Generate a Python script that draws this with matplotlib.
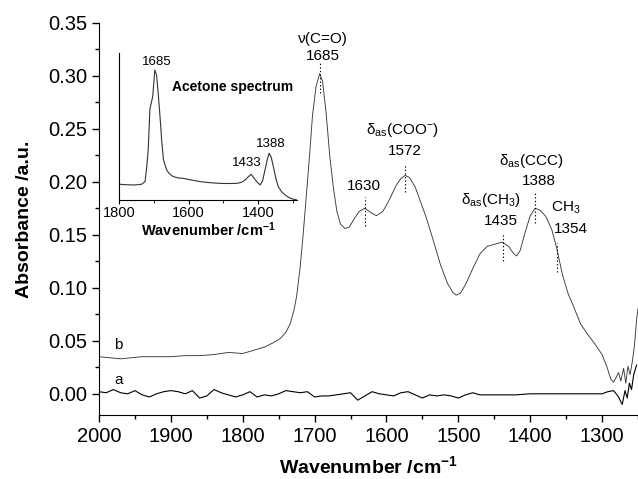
import matplotlib
matplotlib.use('Agg')
import matplotlib.pyplot as plt
from matplotlib.ticker import MultipleLocator, NullLocator

# 1. 数据
wn_a = [2000, 1990, 1980, 1970, 1960, 1950, 1940, 1930, 1920, 1910, 1900, 1890, 1880, 1870,
        1860, 1850, 1840, 1830, 1820, 1810, 1800, 1790, 1780, 1770, 1760, 1750, 1740, 1730,
        1720, 1710, 1700, 1690, 1680, 1670, 1660, 1650, 1640, 1630, 1620, 1610, 1600, 1590,
        1580, 1570, 1560, 1550, 1540, 1530, 1520, 1510, 1500, 1490, 1480, 1470, 1460, 1450,
        1440, 1420, 1400, 1380, 1360, 1340, 1320, 1300, 1292, 1284, 1278, 1272, 1268, 1265,
        1262, 1259, 1256, 1252]
abs_a = [0.002, 0.001, 0.004, 0.001, 0.000, 0.003, -0.001, -0.003, 0.000, 0.002, 0.003, 0.002,
         0.000, 0.003, -0.004, -0.002, 0.004, 0.001, -0.001, -0.003, -0.001, 0.002, -0.003,
         -0.001, -0.002, 0.000, 0.003, 0.002, 0.001, 0.002, -0.003, -0.002, -0.002, -0.001,
         0.000, 0.001, -0.006, -0.002, 0.002, 0.000, -0.001, -0.002, 0.001, 0.002, -0.001,
         -0.004, -0.001, -0.002, -0.001, -0.002, -0.004, -0.001, 0.001, -0.001, -0.001, -0.001,
         -0.001, -0.001, 0.000, 0.000, 0.000, 0.000, 0.000, 0.000, 0.002, 0.003, -0.002,
         -0.010, 0.003, -0.004, 0.010, 0.004, 0.018, 0.027]

wn_b = [2000, 1985, 1970, 1955, 1940, 1920, 1900, 1880, 1860, 1840, 1820, 1800, 1785, 1770,
        1758, 1748, 1740, 1734, 1729, 1725, 1720, 1716, 1712, 1707, 1703, 1698, 1693, 1689,
        1684, 1679, 1674, 1669, 1664, 1658, 1652, 1645, 1638, 1630, 1622, 1614, 1605, 1596,
        1587, 1580, 1574, 1568, 1560, 1552, 1545, 1535, 1525, 1515, 1508, 1503, 1497, 1490,
        1480, 1470, 1460, 1450, 1439, 1430, 1424, 1419, 1414, 1408, 1400, 1393, 1386, 1378,
        1370, 1363, 1355, 1347, 1340, 1330, 1320, 1310, 1300, 1293, 1288, 1284, 1280, 1277,
        1274, 1270, 1267, 1264, 1261, 1258, 1255, 1252, 1250]
abs_b = [0.035, 0.034, 0.033, 0.034, 0.035, 0.035, 0.035, 0.036, 0.036, 0.037, 0.039, 0.038,
         0.041, 0.044, 0.048, 0.052, 0.058, 0.066, 0.078, 0.092, 0.120, 0.150, 0.183, 0.225,
         0.262, 0.290, 0.302, 0.295, 0.265, 0.225, 0.195, 0.172, 0.160, 0.156, 0.157, 0.165,
         0.172, 0.175, 0.171, 0.168, 0.172, 0.183, 0.196, 0.203, 0.206, 0.204, 0.195, 0.180,
         0.167, 0.145, 0.122, 0.104, 0.096, 0.093, 0.095, 0.103, 0.118, 0.132, 0.139, 0.141,
         0.143, 0.139, 0.133, 0.130, 0.135, 0.150, 0.168, 0.175, 0.173, 0.167, 0.155, 0.137,
         0.112, 0.094, 0.083, 0.066, 0.056, 0.047, 0.037, 0.025, 0.014, 0.011, 0.016, 0.020,
         0.012, 0.024, 0.010, 0.026, 0.018, 0.030, 0.045, 0.070, 0.080]

# 插图: 丙酮光谱 (任意单位)
wn_ac = [1800, 1780, 1759, 1745, 1735, 1725, 1720, 1716, 1711, 1703, 1697, 1692, 1687, 1682,
         1677, 1672, 1663, 1655, 1644, 1630, 1615, 1590, 1567, 1540, 1509, 1480, 1461, 1448,
         1437, 1428, 1420, 1412, 1404, 1394, 1387, 1380, 1373, 1368, 1362, 1356, 1348, 1342,
         1332, 1322, 1310, 1298, 1290]
abs_ac = [0.107, 0.104, 0.102, 0.104, 0.107, 0.125, 0.227, 0.340, 0.620, 0.703, 0.884, 0.850,
          0.720, 0.567, 0.400, 0.272, 0.204, 0.178, 0.159, 0.150, 0.147, 0.135, 0.125, 0.118,
          0.113, 0.112, 0.113, 0.120, 0.136, 0.158, 0.175, 0.150, 0.125, 0.102, 0.130, 0.204,
          0.280, 0.318, 0.290, 0.227, 0.140, 0.091, 0.055, 0.034, 0.015, 0.005, 0.002]

# 峰位标注: (文字, x, y)
peak_labels = [('ν(C=O)', 1689, 0.335), ('1685', 1689, 0.319),
               ('δ$_{as}$(COO$^{-}$)', 1577, 0.249), ('1572', 1574, 0.229),
               ('1630', 1632, 0.196),
               ('δ$_{as}$(CH$_3$)', 1454, 0.183), ('1435', 1441, 0.163),
               ('δ$_{as}$(CCC)', 1399, 0.220), ('1388', 1388, 0.201),
               ('CH$_3$', 1350, 0.175), ('1354', 1344, 0.155)]
# 虚线: (x, y下, y上)
peak_lines = [(1693, 0.284, 0.313), (1574, 0.190, 0.216), (1630, 0.158, 0.186),
              (1438, 0.125, 0.152), (1393, 0.161, 0.190), (1363, 0.115, 0.142)]

# 2. 字体设置
plt.rcParams['font.family'] = ['Liberation Sans', 'DejaVu Sans']
plt.rcParams['mathtext.fontset'] = 'custom'
plt.rcParams['mathtext.rm'] = 'Liberation Sans'
plt.rcParams['mathtext.it'] = 'Liberation Sans'
plt.rcParams['mathtext.bf'] = 'Liberation Sans:bold'
plt.rcParams['mathtext.default'] = 'regular'

fig = plt.figure(figsize=(6.38, 4.79), dpi=100)
ax = fig.add_axes([0.1552, 0.1336, 0.8448, 0.819])

ax.plot(wn_b, abs_b, color='#3a3a3a', linewidth=0.65)
ax.plot(wn_a, abs_a, color='black', linewidth=0.8)

for txt, x, y in peak_labels:
    ax.text(x, y, txt, ha='center', va='center', fontsize=11)
for x, y0, y1 in peak_lines:
    ax.plot([x, x], [y0, y1], color='black', linestyle=(0, (1.2, 2)), linewidth=0.8)

ax.text(1973, 0.046, 'b', ha='center', va='center', fontsize=11)
ax.text(1973, 0.013, 'a', ha='center', va='center', fontsize=11)

ax.set_xlim(2000, 1250)
ax.set_ylim(-0.02, 0.35)
ax.xaxis.set_major_locator(MultipleLocator(100))
ax.xaxis.set_minor_locator(MultipleLocator(50))
ax.yaxis.set_major_locator(MultipleLocator(0.05))
ax.yaxis.set_minor_locator(MultipleLocator(0.025))
ax.yaxis.set_major_formatter(plt.FormatStrFormatter('%.2f'))
ax.tick_params(which='major', direction='out', length=5, width=1, labelsize=14.5)
ax.tick_params(which='minor', direction='out', length=3, width=1)
ax.spines['top'].set_visible(False)
ax.spines['right'].set_visible(False)
ax.set_xlabel('Wavenumber /cm$^{-1}$', fontsize=14, fontweight='bold', labelpad=7)
ax.set_ylabel('Absorbance /a.u.', fontsize=14, fontweight='bold', labelpad=11)

# 3. 插图
ins = fig.add_axes([0.1865, 0.5825, 0.279, 0.307])
ins.plot(wn_ac, abs_ac, color='#333333', linewidth=0.8)
ins.set_xlim(1800, 1288)
ins.set_ylim(0, 1)
ins.xaxis.set_major_locator(MultipleLocator(200))
ins.xaxis.set_minor_locator(MultipleLocator(100))
ins.yaxis.set_major_locator(NullLocator())
ins.tick_params(which='major', direction='out', length=3, labelsize=10.5, pad=1.5)
ins.tick_params(which='minor', direction='out', length=2)
ins.spines['top'].set_visible(False)
ins.spines['right'].set_visible(False)
ins.set_xlabel('Wavenumber /cm$^{-1}$', fontsize=10.5, fontweight='bold', labelpad=0)
ins.patch.set_alpha(0)

ins.text(1691, 0.939, '1685', ha='center', va='center', fontsize=9.5)
ins.text(1432, 0.252, '1433', ha='center', va='center', fontsize=9.5)
ins.text(1363, 0.381, '1388', ha='center', va='center', fontsize=9.5)
ins.text(1647, 0.769, 'Acetone spectrum', ha='left', va='center', fontsize=10, fontweight='bold')

fig.savefig('out.png', dpi=100)
